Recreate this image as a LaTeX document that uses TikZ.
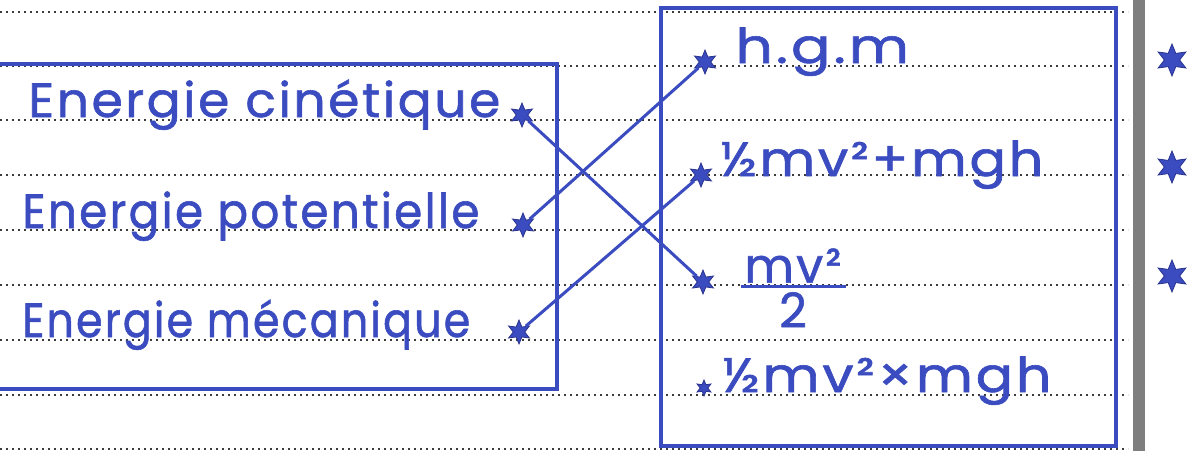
\documentclass[tikz,border=0pt]{standalone}
\usepackage{graphicx}
\usepackage{fontspec}
\setmainfont{Poppins}
\newfontfamily\hand[LetterSpace=5, FakeBold=1.2]{Poppins}
\usetikzlibrary{shapes.geometric}
\definecolor{ink}{HTML}{3A4CC0}
\definecolor{inkedge}{HTML}{2A328F}
\definecolor{ruleln}{HTML}{3C3C3C}
\definecolor{spine}{HTML}{7E7E7E}
% horizontal stretch of a handwritten word
\newcommand{\hw}[2]{\scalebox{#1}[1]{#2}}
% stacked fraction with a thick bar
\newcommand{\handfrac}[2]{\vbox{\halign{\hfil##\hfil\cr \kern2pt#1\kern2pt\cr
  \noalign{\kern1pt\hrule height 1.8pt\kern2pt}#2\cr}}}

\begin{document}
\begin{tikzpicture}[
  x=0.5pt, y=-0.5pt,
  font=\hand\fontsize{24}{28}\selectfont,
  word/.style={anchor=base west, text=ink, inner sep=0pt},
  starpt/.style={star, star points=6, star point ratio=2.1, fill=ink, draw=inkedge,
                 line width=0.4pt, inner sep=0pt, minimum size=12pt},
  bigstar/.style={starpt, minimum size=16pt},
  frame/.style={draw=ink, line width=2pt},
  link/.style={draw=ink, line width=1.5pt},
  ruled/.style={draw=ruleln, line width=1pt, dash pattern=on 1pt off 2pt},
]
\useasboundingbox (0,0) rectangle (1191,451);
\fill[white] (0,0) rectangle (1191,451);

% ---- ruled paper ----
\foreach \y in {12,66,120,175,230,285,340,395,449}
  \draw[ruled] (0,\y) -- (1128,\y);
\fill[spine] (1133,0) rectangle (1145,451);

% ---- frames ----
\draw[frame] (-5,64) -- (557,64) -- (557,389) -- (-5,389);
\draw[frame] (661,8) rectangle (1116,446);

% ---- left column ----
\node[word] (cin) at (28,117) {\hw{1.05}{Energie cinétique}};
\node[word] (pot) at (22,228) {\hw{0.944}{Energie potentielle}};
\node[word] (mec) at (22,337) {\hw{0.892}{Energie mécanique}};
\node[starpt] (sc) at (522,115) {};
\node[starpt] (sp) at (523,225) {};
\node[starpt] (sm) at (519,332) {};

% ---- right column ----
\node[word] (hgm) at (735,63) {\hw{1.22}{h.g.m}};
\node[word] (sum) at (720,176) {\hw{1.126}{½mv²+mgh}};
\node[text=ink, inner sep=0pt] (frac) at (793,288) {\handfrac{mv²}{2}};
\node[word] (prod) at (722,392) {\hw{1.155}{½mv²×mgh}};
\node[starpt] (rh) at (705,62) {};
\node[starpt] (rs) at (701,175) {};
\node[starpt] (rf) at (703,282) {};
\node[starpt, minimum size=8pt] (rp) at (704,388) {};

% ---- margin stars ----
\node[bigstar] (m1) at (1172,60) {};
\node[bigstar] (m2) at (1172,167) {};
\node[bigstar] (m3) at (1172,276) {};

% ---- matching ----
\draw[link] (sc) -- (rf);
\draw[link] (sp) -- (rh);
\draw[link] (sm) -- (rs);
\end{tikzpicture}
\end{document}
